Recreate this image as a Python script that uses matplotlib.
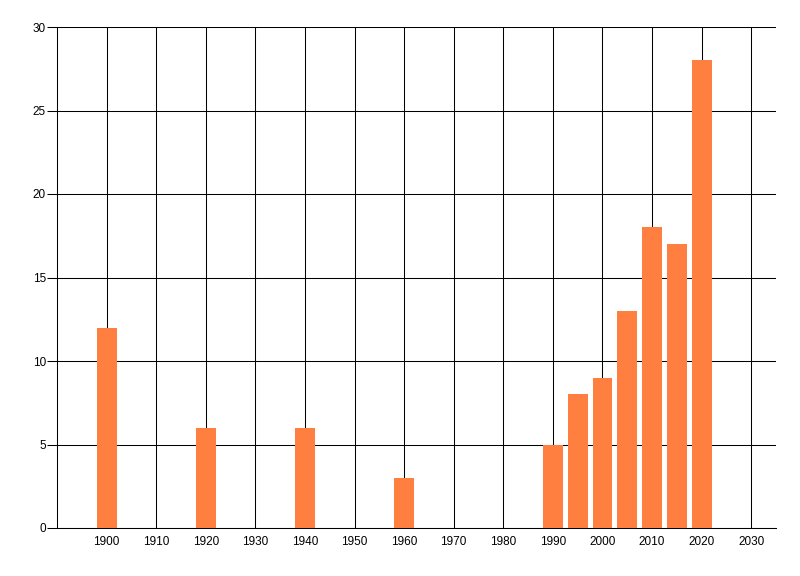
import matplotlib
matplotlib.use("Agg")
import matplotlib.pyplot as plt
from matplotlib.ticker import MultipleLocator

years = [1900, 1920, 1940, 1960, 1990, 1995, 2000, 2005, 2010, 2015, 2020]
counts = [12, 6, 6, 3, 5, 8, 9, 13, 18, 17, 28]
x_ticks = list(range(1900, 2031, 10))

plt.rcParams['font.family'] = ['Liberation Sans', 'DejaVu Sans']

fig = plt.figure(figsize=(8, 5.76), dpi=100)
ax = fig.add_axes([57/800, 1 - 528/576, (776-57)/800, (528-27)/576])

ax.set_xlim(1890, 2035)
ax.set_ylim(0, 30)
ax.set_xticks(x_ticks)
ax.yaxis.set_major_locator(MultipleLocator(5))

lw = 0.75
ax.grid(which='major', color='black', linewidth=lw)
ax.set_axisbelow(True)

ax.bar(years, counts, width=4, color='#FF7F41', zorder=3)

# Оси
for s in ['top', 'right']:
    ax.spines[s].set_visible(False)
for s in ['left', 'bottom']:
    ax.spines[s].set_linewidth(lw)

ax.tick_params(axis='x', length=0, pad=6, labelsize=8.5)
ax.tick_params(axis='y', length=7, width=lw, pad=1, labelsize=8.5)

fig.savefig("out.png", dpi=100)
